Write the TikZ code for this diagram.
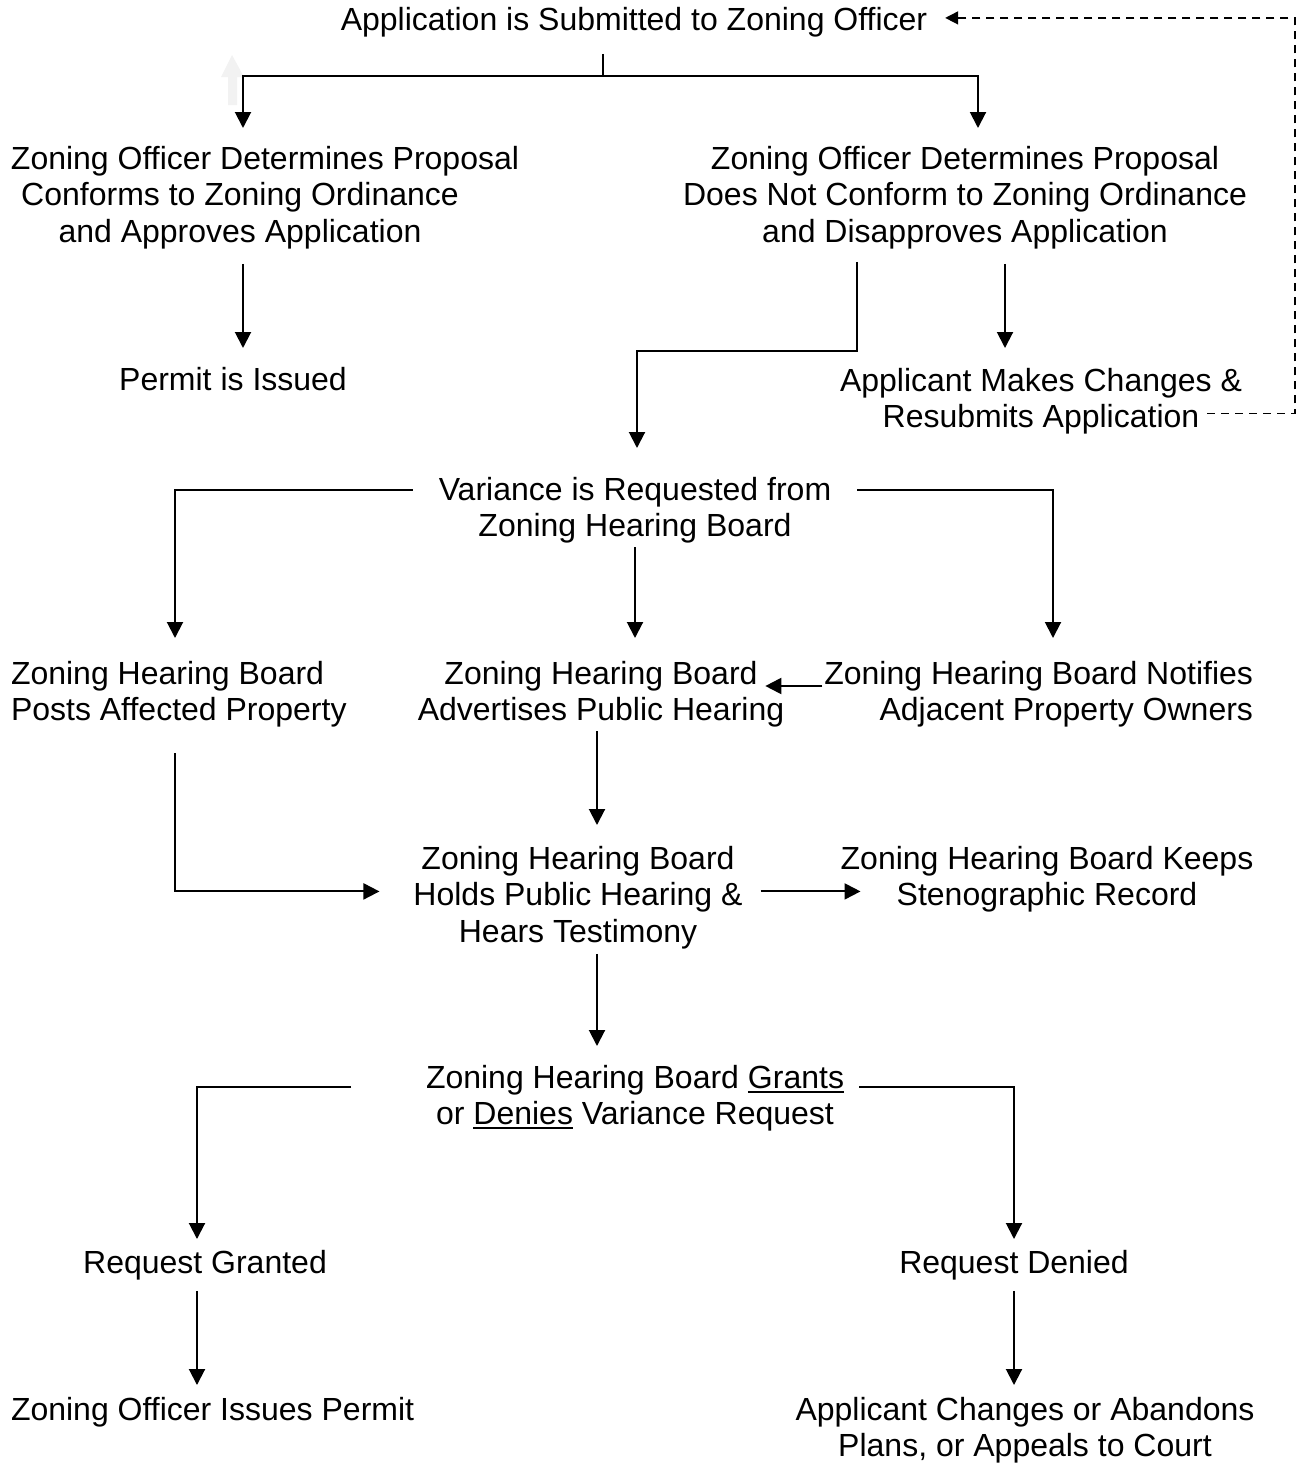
\documentclass[tikz,border=0pt]{standalone}
\usepackage{fontspec}
\setmainfont{Liberation Sans}
\usetikzlibrary{arrows.meta, positioning}

\newcommand{\uword}[1]{\leavevmode\setbox0\hbox{#1}\rlap{\rule[-4.5pt]{\wd0}{2pt}}\box0{}}

\begin{document}
\begin{tikzpicture}[
    x=1pt, y=-1pt,
    line width=2pt,
    txt/.style={inner sep=0pt, align=center, anchor=north, font={\fontsize{32}{36.5}\selectfont}},
    arr/.style={-{Triangle[length=16pt, width=16pt]}},
    back/.style={dash pattern=on 8pt off 6pt, line width=1.5pt, -{Triangle[length=13pt, width=13pt]}}
]
\useasboundingbox (0,0) rectangle (1301,1464);

% faint mark left over in the scan
\fill[black!5] (232,55) -- (244,77) -- (237,77) -- (237,105) -- (228,105) -- (228,77) -- (221,77) -- cycle;

\node[txt] (app) at (634,6) {Application is Submitted to Zoning Officer};
\node[txt] (conf) at (240,145) {\hspace*{50pt}Zoning Officer Determines Proposal\\ Conforms to Zoning Ordinance\\ and Approves Application};
\node[txt] (nconf) at (965,145) {Zoning Officer Determines Proposal\\ Does Not Conform to Zoning Ordinance\\ and Disapproves Application};
\node[txt] (permit) at (233,366) {Permit is Issued};
\node[txt] (changes) at (1041,367) {Applicant Makes Changes \&\\ Resubmits Application};
\node[txt] (var) at (635,476) {Variance is Requested from\\ Zoning Hearing Board};
\node[txt, align=left, anchor=north west] (posts) at (10,660) {Zoning Hearing Board\\ Posts Affected Property};
\node[txt] (adv) at (601,660) {Zoning Hearing Board\\ Advertises Public Hearing};
\node[txt, align=right, anchor=north east] (notif) at (1254,660) {Zoning Hearing Board Notifies\\ Adjacent Property Owners};
\node[txt] (holds) at (578,845) {Zoning Hearing Board\\ Holds Public Hearing \&\\ Hears Testimony};
\node[txt] (keeps) at (1047,845) {Zoning Hearing Board Keeps\\ Stenographic Record};
\node[txt] (grants) at (635,1064) {Zoning Hearing Board \uword{Grants}\\ or \uword{Denies} Variance Request};
\node[txt] (granted) at (205,1249) {Request Granted};
\node[txt] (denied) at (1014,1249) {Request Denied};
\node[txt, anchor=north west] (issues) at (10,1396) {Zoning Officer Issues Permit};
\node[txt] (abandon) at (1025,1396) {Applicant Changes or Abandons\\ Plans, or Appeals to Court};

% zoning officer decides
\coordinate (split) at (603,76);
\draw[shorten <=16pt] (app.south -| split) -- (split);
\draw[arr, shorten >=17pt] (split) -| (conf.north -| 243,0);
\draw[arr, shorten >=17pt] (split) -| (nconf.north -| 978,0);

\draw[arr, shorten <=14pt, shorten >=18pt] (conf.south -| 243,0) -- (permit.north -| 243,0);
\draw[arr, shorten <=12pt, shorten >=28pt] (nconf.south -| 857,0) -- ++(0,101) -| (var.north -| 637,0);
\draw[arr, shorten <=14pt, shorten >=19pt] (nconf.south -| 1005,0) -- (changes.north -| 1005,0);

% resubmission
\draw[back, shorten >=17pt] ([shift={(166,-22)}]changes.south) -- ++(88,0) |- ([yshift=4pt]app.east);

% variance
\draw[arr, shorten >=22pt] ([shift={(-25,14)}]var.north west) -| (posts.north -| 175,0);
\draw[arr, shorten >=22pt] ([shift={(25,14)}]var.north east) -| (notif.north -| 1053,0);
\draw[arr, shorten <=3pt, shorten >=22pt] (var.south) -- (var.south |- adv.north);
\draw[arr] ([shift={(-1,26)}]notif.north west) -- ++(-57,0);

% hearing
\draw[arr, shorten <=3pt, shorten >=20pt] (adv.south -| 597,0) -- (holds.north -| 597,0);
\draw[arr, shorten <=25pt] (posts.south -| 175,0) |- ([shift={(-33,-6)}]holds.west);
\draw[arr] ([shift={(17,-6)}]holds.east) -- ++(100,0);
\draw[arr, shorten <=4pt, shorten >=18pt] (holds.south -| 597,0) -- (grants.north -| 597,0);

% decision
\draw[arr, shorten >=10pt] ([shift={(-74,23)}]grants.north west) -| (granted.north -| 197,0);
\draw[arr, shorten >=10pt] ([shift={(14,23)}]grants.north east) -| (denied.north -| 1014,0);
\draw[arr, shorten <=10pt, shorten >=11pt] (granted.south -| 197,0) -- (issues.north -| 197,0);
\draw[arr, shorten <=10pt, shorten >=11pt] (denied.south -| 1014,0) -- (abandon.north -| 1014,0);

\end{tikzpicture}
\end{document}
